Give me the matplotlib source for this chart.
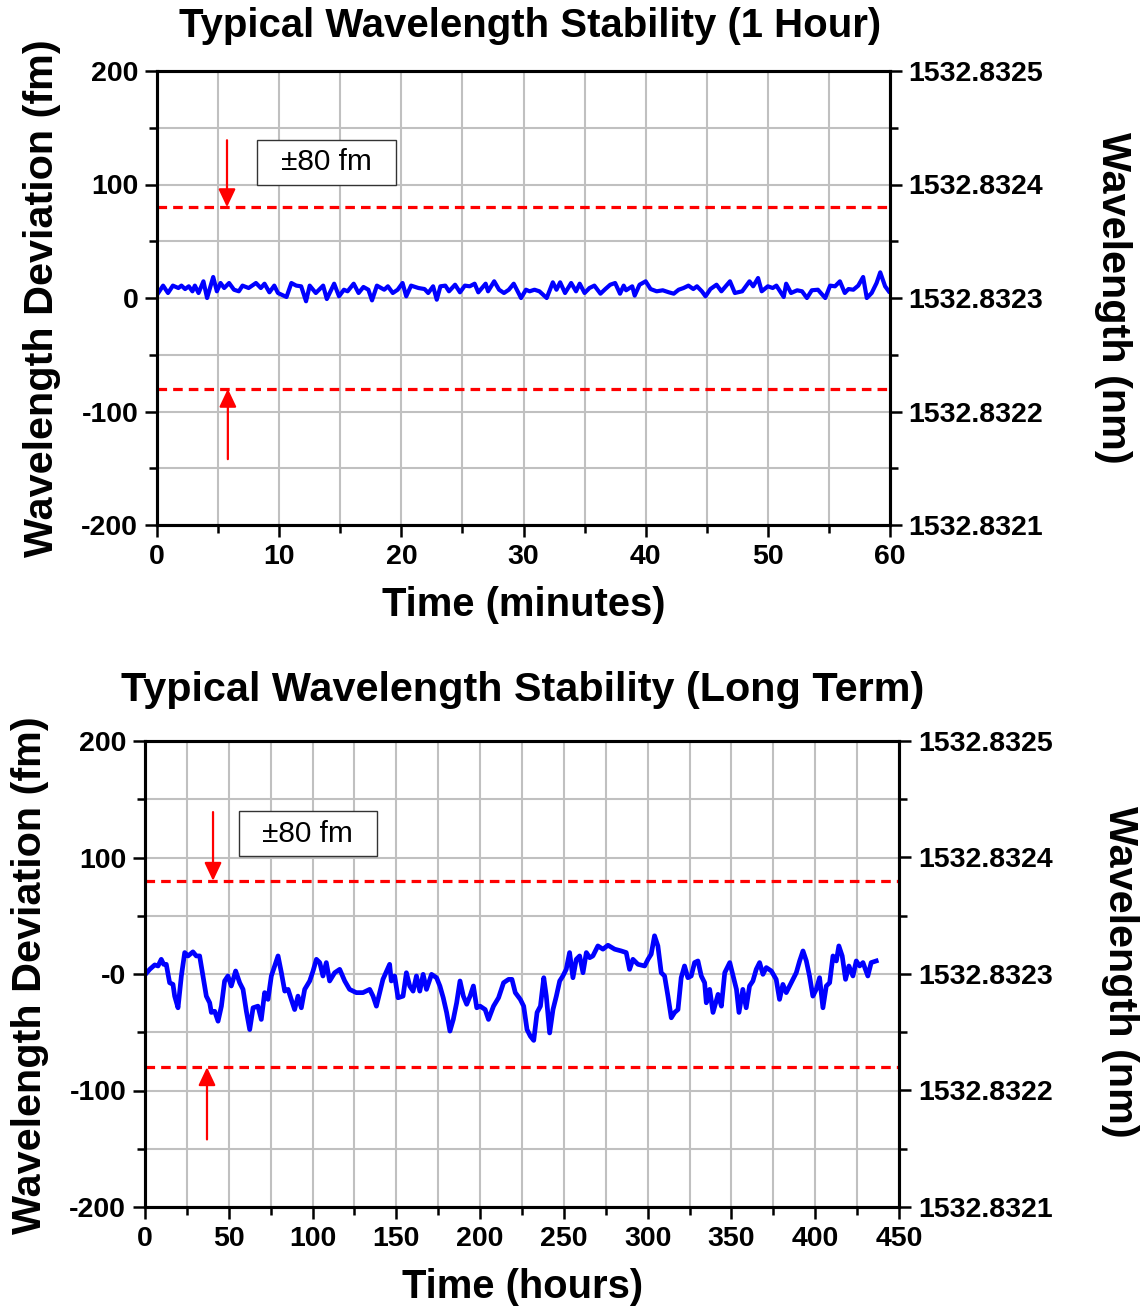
import matplotlib
matplotlib.use('Agg')
import matplotlib.pyplot as plt
from matplotlib.patches import Rectangle
from matplotlib.ticker import MultipleLocator

plt.rcParams['font.family'] = ['Liberation Sans', 'DejaVu Sans']

# ---- 1 hour trace (minutes, fm)
minutes = [0.1, 0.5, 0.9, 1.3, 1.75, 2.0, 2.3, 2.6, 2.9, 3.1, 3.4, 3.8, 4.1, 4.6, 4.9,
           5.2, 5.5, 5.9, 6.3, 6.7, 7.0, 7.5, 8.1, 8.5, 8.8, 9.2, 9.6, 9.9, 10.6, 11.0,
           11.4, 11.8, 12.2, 12.5, 13.0, 13.6, 13.9, 14.5, 14.9, 15.3, 15.6, 16.1, 16.5,
           16.9, 17.3, 17.6, 18.0, 18.6, 18.9, 19.3, 19.7, 20.1, 20.4, 20.8, 21.4, 21.9,
           22.2, 22.6, 22.9, 23.2, 23.6, 23.9, 24.4, 24.8, 25.2, 25.6, 26.0, 26.3, 26.9,
           27.1, 27.6, 28.0, 28.4, 28.8, 29.2, 29.8, 30.2, 30.5, 30.9, 31.3, 31.9, 32.4,
           32.7, 33.0, 33.4, 33.9, 34.3, 34.6, 35.0, 35.4, 35.8, 36.3, 36.7, 37.1, 37.5,
           37.9, 38.2, 38.4, 38.9, 39.1, 39.5, 40.0, 40.4, 40.9, 41.4, 41.9, 42.3, 42.7,
           43.1, 43.5, 43.9, 44.2, 44.6, 44.9, 45.3, 45.8, 46.2, 46.9, 47.3, 47.9, 48.5,
           48.8, 49.2, 49.5, 50.0, 50.4, 50.7, 51.3, 51.5, 51.9, 52.4, 52.8, 53.2, 53.6,
           54.1, 54.7, 55.1, 55.5, 55.9, 56.3, 56.6, 57.0, 57.4, 57.8, 58.1, 58.5, 58.9,
           59.2, 59.6, 59.9]
dev_1h = [4.4, 10.9, 4.4, 10.9, 8.8, 10.9, 7.9, 10.3, 5.9, 10.9, 4.4, 14.7, 0.0, 18.5, 5.9,
          13.2, 8.8, 13.2, 7.3, 5.9, 10.9, 8.8, 13.2, 8.8, 12.6, 5.0, 10.9, 4.4, 0.9, 13.2,
          10.9, 10.3, -2.9, 10.9, 4.4, 10.9, -0.9, 12.6, 1.5, 7.3, 5.9, 12.6, 4.4,
          9.7, 7.3, -2.1, 10.9, 7.3, 10.3, 4.4, 7.3, 13.2, 1.5, 10.9, 8.8, 7.9,
          4.4, 10.3, -1.5, 10.3, 10.9, 5.9, 11.7, 5.0, 10.9, 10.3, 12.6, 5.0, 12.6,
          5.9, 14.7, 7.3, 4.4, 7.3, 12.6, 0.0, 7.3, 5.9, 7.3, 5.9, 0.0, 13.8,
          7.3, 13.8, 4.4, 13.2, 5.9, 12.6, 4.4, 8.8, 10.9, 3.8, 7.9, 11.7, 13.2,
          3.8, 10.9, 6.8, 10.3, 2.1, 11.7, 14.7, 7.9, 5.9, 6.8, 5.0, 3.8, 7.3,
          8.8, 10.9, 7.9, 10.3, 5.9, 1.5, 7.9, 11.7, 5.9, 14.7, 4.4, 5.9, 14.7,
          10.3, 17.6, 5.9, 10.3, 8.8, 10.9, 0.9, 12.6, 4.4, 6.8, 5.9, 0.0, 6.8,
          7.3, 0.0, 10.9, 10.3, 14.7, 4.4, 7.9, 7.3, 10.9, 18.5, 0.0, 4.4, 13.2,
          22.6, 10.3, 5.9]

# ---- long term trace (hours, fm)
hours = [0.4, 2.8, 5.8, 7.8, 9.7, 11.1, 12.7, 14.7, 16.7, 17.7, 19.7, 21.7, 23.7, 25.7,
         28.6, 30.6, 32.6, 34.6, 36.6, 38.6, 39.6, 41.6, 43.6, 45.6, 47.5, 49.5, 51.5,
         54.1, 56.5, 58.5, 60.5, 62.5, 64.5, 67.4, 69.4, 71.4, 73.4, 75.4, 77.4, 79.4,
         81.4, 83.4, 85.4, 87.3, 89.3, 91.3, 93.3, 95.3, 98.3, 100.3, 102.3, 104.3,
         106.2, 108.2, 110.2, 113.2, 116.2, 119.2, 122.1, 126.1, 130.1, 134.1, 136.1,
         138.1, 140.1, 142.0, 146, 147, 149, 151, 154, 156, 158, 160, 162, 164, 166,
         168, 171, 174, 176, 178, 180, 182, 184, 186, 188, 190, 192, 194, 196, 198, 200,
         203, 205, 208, 211, 214, 217, 219, 221, 224, 226, 228, 230, 232, 234, 236, 238,
         239.5, 241.5, 243.5, 245.5, 247.5, 249.4, 251.4, 253.4, 255.4, 257.4, 259.4,
         261.4, 263.4, 265.4, 267.3, 270.3, 273.3, 276.3, 280.3, 284.2, 287.2, 289.2,
         291.2, 294.2, 298.2, 300.2, 302.1, 304.1, 306.1, 308.1, 310.1, 312.1, 314.1,
         316.1, 318.1, 320.0, 322.0, 324.0, 326, 328, 330, 332, 334, 335, 337, 339, 342,
         344, 346, 349, 351, 353, 354.5, 356.8, 358.8, 360.8, 362.8, 364.8, 366.8,
         368.8, 370.8, 373.8, 376.7, 378.7, 380.7, 382.7, 385.7, 388.7, 390.7, 392.7,
         394.7, 396.6, 398.6, 400.6, 402.6, 404.6, 406.6, 408.6, 410.6, 412.6, 414.1,
         416.1, 418.1, 420.1, 422.5, 424.5, 426.5, 428.5, 431.4, 433.4, 436.4]
dev_long = [0.0, 4.0, 7.8, 6.9, 12.6, 8.3, 8.3, -7.5, -8.9, -19.0, -29.0, -1.7, 18.4, 15.5,
            19.0, 15.5, 15.5, -1.7, -19.0, -24.7, -33.0, -32.0, -40.5, -27.6, -6.0, -1.7, -10.3,
            2.6, -7.5, -13.2, -32.0, -47.7, -29.0, -27.6, -39.0, -16.0, -21.8, -1.7, 6.9, 15.5,
            1.1, -14.7, -13.2, -21.8, -30.5, -19.0, -29.0, -13.2, -6.0, 2.6, 12.6, 9.8,
            -1.7, 9.8, -6.0, 1.1, 4.0, -6.0, -13.2, -16.0, -16.0, -13.2, -19.0,
            -27.6, -16.0, -4.6, 8.3, -6.0, -1.7, -20.4, -19.0, 1.1, -10.3, -14.7, -1.7, -14.7, -0.3,
            -13.2, -0.3, -3.2, -10.3, -20.4, -33.0, -49.0, -39.0, -24.7, -6.0, -19.0, -26.0, -19.0, -10.3, -29.0, -27.6,
            -30.5, -39.0, -27.6, -20.4, -7.5, -4.6, -4.6, -16.0, -21.8, -27.6, -47.7, -53.4, -57.0, -33.0, -27.6, -3.2,
            -19.0, -50.6, -30.5, -19.0, -6.0, -1.7, 4.0, 18.4, -3.2, 12.6, 15.5,
            1.1, 18.4, 14.0, 15.5, 24.1, 21.3, 24.7, 21.3, 19.8, 18.4, 4.0,
            12.6, 8.3, 6.9, 12.6, 17.0, 32.8, 24.1, 1.1, -1.7, -19.0, -37.6,
            -33.0, -30.5, -3.2, 6.9, -3.2, -1.7, 9.8, 11.2, -1.7, -7.5, -24.7, -13.2, -33.0, -17.5,
            -27.6, 1.1, 9.8, -1.7, -13.2, -33.0, -13.2, -29.0, -10.3, -6.0, 4.0, 9.8,
            -0.3, 5.5, 2.6, -4.6, -21.8, -8.9, -16.0, -7.5, 1.1, 11.2, 19.8,
            11.2, -1.7, -19.0, -13.2, -3.2, -29.0, -10.3, -7.5, 15.5, 11.2, 24.1,
            15.5, -4.6, 6.9, -1.7, 11.2, 6.9, 9.8, -1.7, 9.8, 11.2]

limit_fm = 80
dev_ticks = [-200, -100, 0, 100, 200]
dev_labels_1h = ['-200', '-100', '0', '100', '200']
dev_labels_long = ['-200', '-100', '-0', '100', '200']
wl_ticks = [1532.8321, 1532.8322, 1532.8323, 1532.8324, 1532.8325]
wl_labels = ['%.4f' % w for w in wl_ticks]

TICK_FS = 20.5
XLABEL_FS = 28.8
YLABEL_FS = 29.8
W, H = 1143, 1310

fig = plt.figure(figsize=(W / 100, H / 100), dpi=100)


def make_panel(rect, t, dev, lw, xmax, xmajor, xminor, ylabels, arrow_x, box_xy, box_w):
    ax = fig.add_axes(rect)
    ax.plot(t, dev, color='#0000ff', lw=lw, zorder=3)
    ax.axhline(limit_fm, color='red', lw=2.3, dashes=(3, 1.9), zorder=4)
    ax.axhline(-limit_fm, color='red', lw=2.3, dashes=(3, 1.9), zorder=4)
    ax.set_xlim(0, xmax)
    ax.set_ylim(-200, 200)
    ax.xaxis.set_major_locator(MultipleLocator(xmajor))
    ax.xaxis.set_minor_locator(MultipleLocator(xminor))
    ax.set_yticks(dev_ticks)
    ax.set_yticklabels(ylabels)
    ax.yaxis.set_minor_locator(MultipleLocator(50))
    ax.grid(True, which='both', color='#c0c0c0', lw=1.5)
    ax.set_axisbelow(True)
    ax.tick_params(which='major', direction='out', length=8.5, width=1.8,
                   labelsize=TICK_FS, pad=5, top=False)
    ax.tick_params(which='minor', direction='out', length=5.5, width=1.8, top=False)
    for lab in ax.get_xticklabels() + ax.get_yticklabels():
        lab.set_fontweight('bold')
    for s in ax.spines.values():
        s.set_linewidth(2.2)

    # arrows pointing at the limits
    ax.annotate('', xy=(arrow_x[0], limit_fm), xytext=(arrow_x[0], 139),
                arrowprops=dict(arrowstyle='-|>,head_length=0.55,head_width=0.26',
                                color='red', lw=1.6, mutation_scale=20,
                                shrinkA=0, shrinkB=0), zorder=5)
    ax.annotate('', xy=(arrow_x[1], -limit_fm), xytext=(arrow_x[1], -142),
                arrowprops=dict(arrowstyle='-|>,head_length=0.55,head_width=0.26',
                                color='red', lw=1.6, mutation_scale=20,
                                shrinkA=0, shrinkB=0), zorder=5)
    ax.add_patch(Rectangle(box_xy, box_w, 39, facecolor='white',
                           edgecolor='#333333', lw=1.0, zorder=5))
    ax.text(box_xy[0] + box_w / 2, box_xy[1] + 19.5, '\u00b180 fm', fontsize=21.5,
            ha='center', va='center', zorder=6)

    ax2 = ax.twinx()
    ax2.set_ylim(wl_ticks[0], wl_ticks[-1])
    ax2.set_yticks(wl_ticks)
    ax2.set_yticklabels(wl_labels)
    ax2.set_yticks([1532.83215, 1532.83225, 1532.83235, 1532.83245], minor=True)
    ax2.tick_params(which='major', direction='out', length=8.5, width=1.8,
                    labelsize=TICK_FS, pad=5)
    ax2.tick_params(which='minor', direction='out', length=5.5, width=1.8)
    for lab in ax2.get_yticklabels():
        lab.set_fontweight('bold')
    for s in ax2.spines.values():
        s.set_linewidth(2.2)
    return ax


def fx(px):
    return px / W


def fy(py):
    return 1 - py / H


# top panel: 1 hour
make_panel([fx(157), fy(525), fx(890 - 157), (525 - 71) / H], minutes, dev_1h, 3.0,
           60, 10, 5, dev_labels_1h, (5.73, 5.8), (8.2, 100), 11.4)
fig.text(fx(530), fy(26), 'Typical Wavelength Stability (1 Hour)', fontsize=28.9,
         fontweight='bold', ha='center', va='center')
fig.text(fx(524), fy(605), 'Time (minutes)', fontsize=XLABEL_FS, fontweight='bold',
         ha='center', va='center')
fig.text(fx(42), fy(298), 'Wavelength Deviation (fm)', fontsize=YLABEL_FS,
         fontweight='bold', rotation=90, ha='center', va='center')
fig.text(fx(1113), fy(298), 'Wavelength (nm)', fontsize=YLABEL_FS,
         fontweight='bold', rotation=-90, ha='center', va='center')

# bottom panel: long term
make_panel([fx(145), fy(1207), fx(899 - 145), (1207 - 741) / H], hours, dev_long, 3.4,
           450, 50, 25, dev_labels_long, (40.6, 37.0), (56, 101), 82.4)
fig.text(fx(523), fy(690), 'Typical Wavelength Stability (Long Term)', fontsize=29.8,
         fontweight='bold', ha='center', va='center')
fig.text(fx(523), fy(1287), 'Time (hours)', fontsize=XLABEL_FS, fontweight='bold',
         ha='center', va='center')
fig.text(fx(30), fy(975), 'Wavelength Deviation (fm)', fontsize=YLABEL_FS,
         fontweight='bold', rotation=90, ha='center', va='center')
fig.text(fx(1120), fy(972), 'Wavelength (nm)', fontsize=YLABEL_FS,
         fontweight='bold', rotation=-90, ha='center', va='center')

fig.savefig('out.png', dpi=100)
